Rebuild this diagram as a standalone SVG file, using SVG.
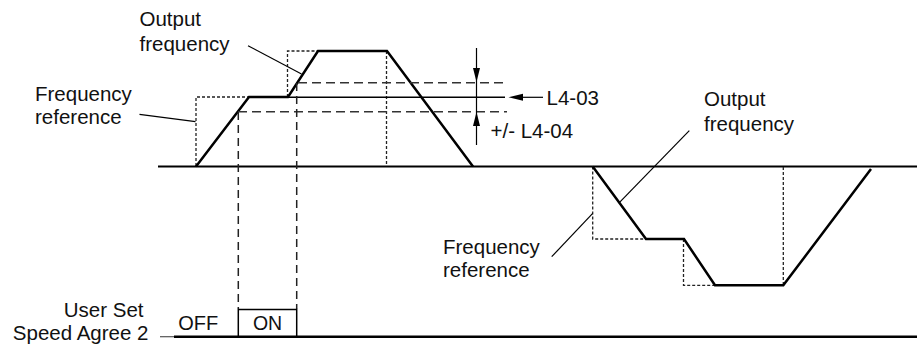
<svg xmlns="http://www.w3.org/2000/svg" width="917" height="344" viewBox="0 0 917 344">
<style>
.t{font-family:"Liberation Sans",Arial,sans-serif;font-size:20.5px;fill:#111}
.axis{stroke:#000;stroke-width:2;fill:none}
.sol{stroke:#000;stroke-width:2.5;fill:none;stroke-linejoin:miter}
.dot{stroke:#222;stroke-width:1.3;fill:none;stroke-dasharray:3,2}
.dash{stroke:#333;stroke-width:1.5;fill:none;stroke-dasharray:9,5}
.vd{stroke:#222;stroke-width:1.5;fill:none;stroke-dasharray:8,5}
.lead{stroke:#000;stroke-width:1.2;fill:none}
.thin{stroke:#000;stroke-width:1.5;fill:none}
.ah{fill:#000;stroke:none}
</style>
<g id="axes">
<line class="axis" x1="158" y1="166.5" x2="917" y2="166.5"/>
<line x1="160" y1="336.7" x2="175" y2="336.7" stroke="#555" stroke-width="1.2"/>
<line class="sol" x1="174" y1="336.7" x2="917" y2="336.7"/>
</g>
<g id="connectors">
<!-- left freq reference dotted -->
<polyline class="dot" points="196,166 196,97 249,97"/>
<polyline class="dot" points="287.5,97 287.5,51 318,51"/>
<line class="dot" x1="386.5" y1="51" x2="386.5" y2="166"/>
<!-- left output frequency -->
<polyline class="sol" points="196,166.5 249,97 288,97 318,51 387,51 473,166.5"/>
<!-- L4-03 level line -->
<line class="thin" x1="288" y1="97.3" x2="505" y2="97.3"/>
<!-- band dashes -->
<line class="dash" x1="298" y1="82.7" x2="507" y2="82.7"/>
<line class="dash" x1="238" y1="111.7" x2="507" y2="111.7"/>
<!-- vertical dashed to ON box -->
<line class="vd" x1="238.3" y1="112" x2="238.3" y2="309"/>
<line class="vd" x1="296.7" y1="83" x2="296.7" y2="309"/>
<!-- ON box -->
<polyline class="thin" points="238.3,336 238.3,309.5 296.7,309.5 296.7,336"/>
<!-- tolerance arrows -->
<line class="lead" x1="476.5" y1="48" x2="476.5" y2="145"/>
<polygon class="ah" points="473,68 480,68 476.5,82"/>
<polygon class="ah" points="473,126 480,126 476.5,112"/>
<line class="lead" x1="520" y1="97.3" x2="543" y2="97.3"/>
<polygon class="ah" points="523,93.8 523,100.8 508.5,97.3"/>
<!-- leaders left -->
<line class="lead" x1="248" y1="45.7" x2="301.5" y2="74"/>
<line class="lead" x1="139.5" y1="114.3" x2="195.5" y2="121.7"/>
<!-- right freq reference dotted -->
<polyline class="dot" points="592.7,166.5 592.7,239 646,239"/>
<polyline class="dot" points="683.5,239 683.5,285.3 715,285.3"/>
<line class="dot" x1="783.3" y1="167" x2="783.3" y2="285.3"/>
<!-- right output frequency -->
<polyline class="sol" points="592.7,166.5 646,239 684,239 715,285.3 783.3,285.3 871,169"/>
<!-- leaders right -->
<line class="lead" x1="689.3" y1="130.7" x2="619.3" y2="202.7"/>
<line class="lead" x1="551.7" y1="256.7" x2="592.7" y2="213.3"/>
</g>
<g id="label-output-left">
<text class="t" x="139.5" y="25.5">Output</text>
<text class="t" x="139.5" y="50.5">frequency</text>
</g>
<g id="label-freqref-left">
<text class="t" x="35" y="100.7">Frequency</text>
<text class="t" x="35" y="124">reference</text>
</g>
<g id="label-l403">
<text class="t" x="546.5" y="105">L4-03</text>
</g>
<g id="label-l404">
<text class="t" x="490.5" y="138.3">+/- L4-04</text>
</g>
<g id="label-output-right">
<text class="t" x="704" y="106">Output</text>
<text class="t" x="704" y="130.5">frequency</text>
</g>
<g id="label-freqref-right">
<text class="t" x="443" y="253.5">Frequency</text>
<text class="t" x="443" y="276.5">reference</text>
</g>
<g id="label-signal">
<text class="t" x="143.5" y="316.5" text-anchor="end">User Set</text>
<text class="t" x="148.5" y="339.5" text-anchor="end">Speed Agree 2</text>
</g>
<g id="label-off">
<text class="t" x="178.3" y="330" style="font-size:20px">OFF</text>
</g>
<g id="label-on">
<text class="t" x="267.5" y="330" text-anchor="middle" style="font-size:19.5px">ON</text>
</g>
</svg>
